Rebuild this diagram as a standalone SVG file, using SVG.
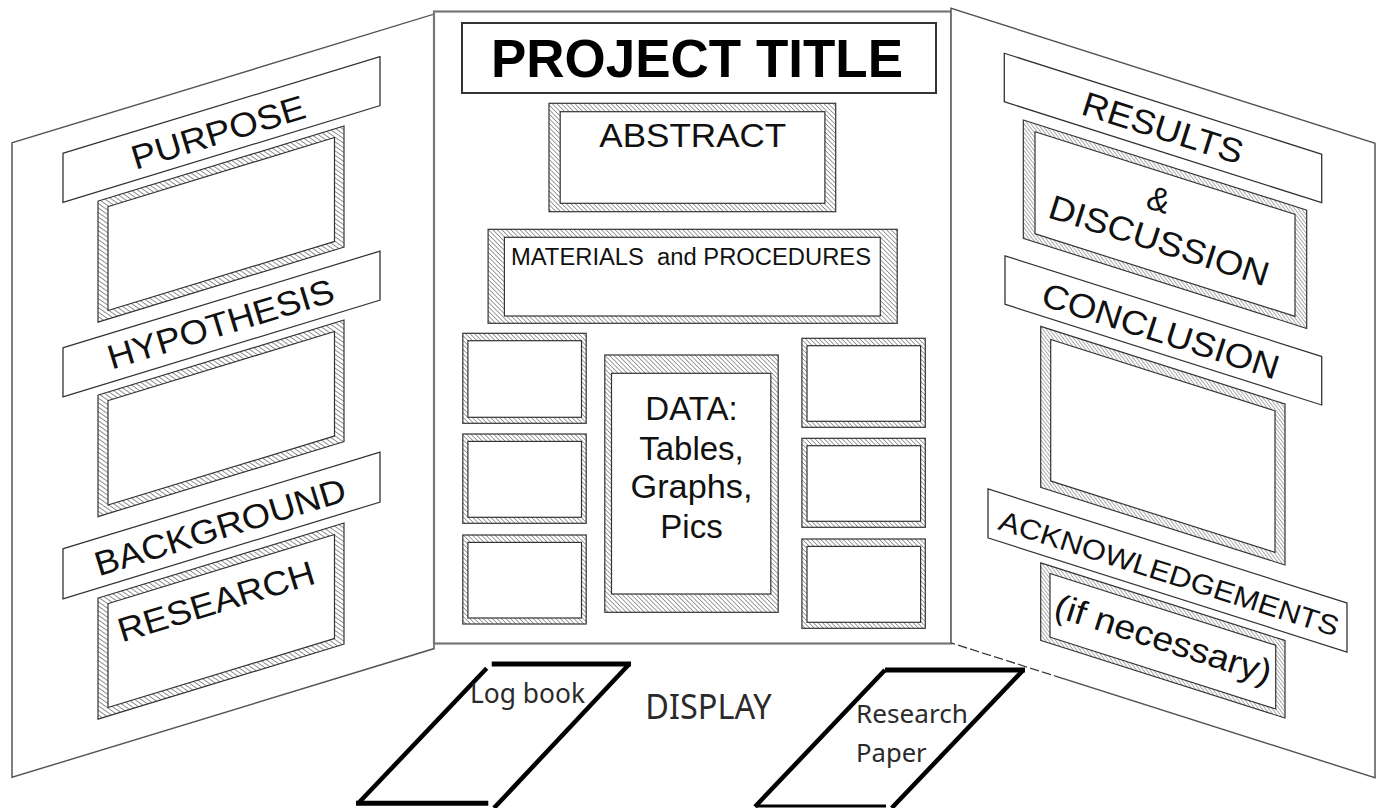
<svg xmlns="http://www.w3.org/2000/svg" width="1383" height="808" viewBox="0 0 1383 808">
<defs>
<pattern id="hatch" width="3.2" height="3.2" patternUnits="userSpaceOnUse" patternTransform="rotate(-45)">
<rect width="3.2" height="3.2" fill="#fff"/>
<line x1="0" y1="0" x2="0" y2="3.2" stroke="#777" stroke-width="1.4"/>
</pattern>
<style>
.panel{fill:#fff;stroke:#555;stroke-width:1.5}
.cpanel{fill:#fff;stroke:#777;stroke-width:2.2}
.strip{fill:#fff;stroke:#333;stroke-width:1.3}
.fo{fill:url(#hatch);stroke:#333;stroke-width:1.2}
.fi{fill:#fff;stroke:#333;stroke-width:1.2}
.lbl{font-family:"Liberation Sans",Arial,sans-serif;fill:#111;text-anchor:middle}
.big{font-size:34px}
.cal{font-family:"Liberation Sans Narrow","Noto Sans",sans-serif;fill:#2a2a2a}
.book{fill:none;stroke:#000;stroke-width:5}
.slant{fill:none;stroke:#000;stroke-width:4.5}
</style>
</defs>
<rect width="1383" height="808" fill="#fff"/>

<!-- LEFT PANEL -->
<g id="left-panel">
<g transform="matrix(1,-0.305,0,1,0,0)">
<rect class="panel" x="12" y="146.5" width="422" height="634.5"/>
</g>
</g>
<g id="purpose">
<g transform="matrix(1,-0.305,0,1,0,0)">
<rect class="strip" x="63" y="172.5" width="317" height="49"/>
</g>
<text class="lbl big" transform="translate(218,132) rotate(-16.96)" y="12.2" textLength="180" lengthAdjust="spacingAndGlyphs">PURPOSE</text>
</g>
<g id="purpose-frame" transform="matrix(1,-0.305,0,1,0,0)">
<rect class="fo" x="98" y="231" width="246" height="121"/>
<rect class="fi" x="108" y="239.5" width="226.5" height="104"/>
</g>
<g id="hypothesis">
<g transform="matrix(1,-0.305,0,1,0,0)">
<rect class="strip" x="63" y="367" width="317" height="49"/>
</g>
<text class="lbl big" transform="translate(220.5,323.5) rotate(-16.96)" y="12.2" textLength="235" lengthAdjust="spacingAndGlyphs">HYPOTHESIS</text>
</g>
<g id="hypothesis-frame" transform="matrix(1,-0.305,0,1,0,0)">
<rect class="fo" x="98" y="425" width="246" height="121.5"/>
<rect class="fi" x="108" y="433.5" width="226.5" height="104.5"/>
</g>
<g id="background">
<g transform="matrix(1,-0.305,0,1,0,0)">
<rect class="strip" x="63" y="568" width="317" height="50"/>
</g>
<text class="lbl big" transform="translate(220,526.5) rotate(-16.96)" y="12.2" textLength="261" lengthAdjust="spacingAndGlyphs">BACKGROUND</text>
</g>
<g id="research">
<g transform="matrix(1,-0.305,0,1,0,0)">
<rect class="fo" x="98" y="628" width="246" height="121"/>
<rect class="fi" x="108" y="636.5" width="226.5" height="104"/>
</g>
<text class="lbl big" transform="translate(216,601) rotate(-16.96)" y="12.2" textLength="204" lengthAdjust="spacingAndGlyphs">RESEARCH</text>
</g>

<!-- CENTER PANEL -->
<g id="center-panel">
<rect class="cpanel" x="434" y="11.5" width="517.5" height="632"/>
</g>
<g id="project-title">
<rect fill="#fff" stroke="#333" stroke-width="2" x="462" y="23" width="474" height="70"/>
<text x="697" y="77.3" font-family="Liberation Sans,Arial,sans-serif" font-weight="bold" font-size="54" fill="#000" text-anchor="middle" textLength="412" lengthAdjust="spacingAndGlyphs">PROJECT TITLE</text>
</g>
<g id="abstract">
<rect class="fo" x="549" y="103.3" width="286.7" height="108.4"/>
<rect class="fi" x="560.2" y="111.7" width="264.7" height="91.6"/>
<text class="lbl" x="692.8" y="146.7" font-size="33" textLength="187" lengthAdjust="spacingAndGlyphs">ABSTRACT</text>
</g>
<g id="materials">
<rect class="fo" x="488.1" y="229.3" width="409.1" height="94"/>
<rect class="fi" x="504.4" y="237.3" width="375.9" height="78.7"/>
<text class="lbl" x="691" y="265" font-size="23.3" style="white-space:pre" textLength="360" lengthAdjust="spacingAndGlyphs">MATERIALS  and PROCEDURES</text>
</g>
<g id="frame-l1">
<rect class="fo" x="462.8" y="333.3" width="123.4" height="90"/>
<rect class="fi" x="467.9" y="340.7" width="113.6" height="76.6"/>
</g>
<g id="frame-l2">
<rect class="fo" x="462.8" y="434" width="123.4" height="89.3"/>
<rect class="fi" x="467.9" y="441.4" width="113.6" height="75.9"/>
</g>
<g id="frame-l3">
<rect class="fo" x="462.8" y="535" width="123.4" height="89"/>
<rect class="fi" x="467.9" y="542.4" width="113.6" height="75.6"/>
</g>
<g id="frame-r1">
<rect class="fo" x="801.9" y="338.3" width="123.4" height="89"/>
<rect class="fi" x="807" y="345.7" width="113.6" height="75.6"/>
</g>
<g id="frame-r2">
<rect class="fo" x="801.9" y="438.3" width="123.4" height="89"/>
<rect class="fi" x="807" y="445.7" width="113.6" height="75.6"/>
</g>
<g id="frame-r3">
<rect class="fo" x="801.9" y="539" width="123.4" height="89.3"/>
<rect class="fi" x="807" y="546.4" width="113.6" height="75.9"/>
</g>
<g id="data">
<rect class="fo" x="604.8" y="355" width="173.4" height="257.3"/>
<rect class="fi" x="611.5" y="373.3" width="159.3" height="220.7"/>
<text class="lbl" font-size="33" x="691.5" y="420">DATA:</text>
<text class="lbl" font-size="33" x="691.5" y="460">Tables,</text>
<text class="lbl" font-size="33" x="691.5" y="498.3" textLength="122" lengthAdjust="spacingAndGlyphs">Graphs,</text>
<text class="lbl" font-size="33" x="691.5" y="538.3">Pics</text>
</g>

<!-- RIGHT PANEL -->
<g id="right-panel" transform="matrix(1,0.318,0,1,0,-302.1)">
<rect x="951" y="8" width="424" height="634.6" fill="#fff"/>
<path class="panel" fill="none" d="M951,642.6 L951,8 L1375,8 L1375,642.6 L1063,642.6"/>
<path fill="none" stroke="#333" stroke-width="1.3" stroke-dasharray="9,3" d="M1063,642.6 L951,642.6"/>
</g>
<g id="results">
<g transform="matrix(1,0.318,0,1,0,-302.1)">
<rect class="strip" x="1004.3" y="36" width="317.4" height="48.5"/>
</g>
<text class="lbl big" transform="translate(1163,127.5) rotate(17.64)" y="12.2" textLength="167" lengthAdjust="spacingAndGlyphs">RESULTS</text>
</g>
<g id="discussion">
<g transform="matrix(1,0.318,0,1,0,-302.1)">
<rect class="fo" x="1023.3" y="96.7" width="283.4" height="118.3"/>
<rect class="fi" x="1035" y="104.7" width="260" height="102"/>
</g>
<text class="lbl big" transform="translate(1159,199) rotate(17.64)" y="12.2">&amp;</text>
<text class="lbl big" transform="translate(1159.2,240) rotate(17.64)" y="12.2" textLength="229" lengthAdjust="spacingAndGlyphs">DISCUSSION</text>
</g>
<g id="conclusion">
<g transform="matrix(1,0.318,0,1,0,-302.1)">
<rect class="strip" x="1005" y="238.3" width="316.7" height="48.5"/>
</g>
<text class="lbl big" transform="translate(1160.8,330.5) rotate(17.64)" y="12.2" textLength="246.6" lengthAdjust="spacingAndGlyphs">CONCLUSION</text>
</g>
<g id="conclusion-frame" transform="matrix(1,0.318,0,1,0,-302.1)">
<rect class="fo" x="1040.7" y="297.5" width="244.3" height="161"/>
<rect class="fi" x="1050.7" y="307.5" width="224.3" height="141.5"/>
</g>
<g id="acknowledgements">
<g transform="matrix(1,0.318,0,1,0,-302.1)">
<rect class="strip" x="988" y="476.8" width="359" height="49"/>
</g>
<text class="lbl" font-size="28" transform="translate(1169.2,573.3) rotate(17.64)" y="10" textLength="355" lengthAdjust="spacingAndGlyphs">ACKNOWLEDGEMENTS</text>
</g>
<g id="if-necessary">
<g transform="matrix(1,0.318,0,1,0,-302.1)">
<rect class="fo" x="1040.7" y="534" width="244.3" height="77.5"/>
<rect class="fi" x="1050" y="541.7" width="225.7" height="63.7"/>
</g>
<text class="lbl big" transform="translate(1162.5,641.7) rotate(17.64)" y="8.8" textLength="225.6" lengthAdjust="spacingAndGlyphs">(if necessary)</text>
</g>

<!-- BOTTOM -->
<g id="log-book">
<path class="book" d="M491.7,664 L631,664"/>
<path class="slant" d="M486.7,668.3 L358.3,803.3"/>
<path class="book" d="M356,803.3 L488.3,803.3"/>
<path class="slant" d="M629.3,664 L494,808"/>
<text class="cal" x="470" y="702.7" font-size="27" textLength="115" lengthAdjust="spacingAndGlyphs">Log book</text>
</g>
<g id="display">
<text class="cal" x="645.3" y="719.3" font-size="34" textLength="126.3" lengthAdjust="spacingAndGlyphs">DISPLAY</text>
</g>
<g id="research-paper">
<path class="book" d="M885,670 L1025,670"/>
<path class="slant" d="M885,670 L755,806.7"/>
<path class="slant" d="M1023.3,670 L891.7,808"/>
<path fill="none" stroke="#000" stroke-width="3" d="M757,806 L886,806"/>
<text class="cal" x="856" y="723.3" font-size="25.6" textLength="112" lengthAdjust="spacingAndGlyphs">Research</text>
<text class="cal" x="856" y="761.7" font-size="25.6" textLength="70.7" lengthAdjust="spacingAndGlyphs">Paper</text>
</g>
</svg>
